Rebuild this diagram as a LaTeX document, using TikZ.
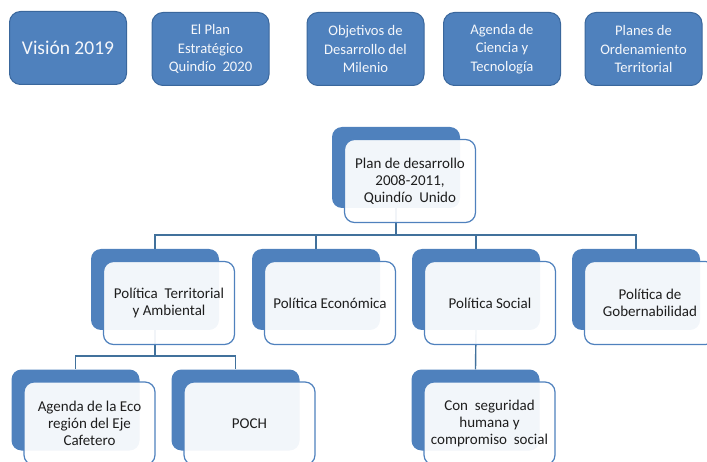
\documentclass[tikz,border=0pt]{standalone}
\usepackage{fontspec}
\setmainfont{Carlito}
\definecolor{boxblue}{HTML}{4F81BD}
\definecolor{boxedge}{HTML}{3A679C}
\definecolor{linkblue}{HTML}{41719C}
\definecolor{txtgray}{HTML}{1E1E1E}
\begin{document}
\begin{tikzpicture}[x=1pt,y=-1pt,
	topbox/.style={draw=boxedge,line width=1pt,fill=boxblue,rounded corners=11pt,minimum width=117pt,minimum height=73pt,inner sep=0pt,align=center,text=white!94!boxblue,font=\fontsize{14.6}{18.5}\selectfont},
	backbox/.style={fill=boxblue,rounded corners=10pt,minimum width=128pt,minimum height=81pt,inner sep=0pt},
	frontbox/.style={draw=boxblue,line width=1.2pt,fill=white,fill opacity=0.93,text opacity=1,rounded corners=10pt,minimum width=131pt,minimum height=83pt,inner sep=0pt,align=center,text=txtgray,font=\fontsize{15}{16.8}\selectfont,shift={(14,13.5)}},
	link/.style={draw=linkblue,line width=1.4pt}]
			\useasboundingbox (0,0) rectangle (707,462);
			\clip (0,0) rectangle (707,462);
			\coordinate (V) at (68,48);
			\coordinate (EP) at (210.5,49);
			\coordinate (OD) at (365.5,49);
			\coordinate (AC) at (502,49);
			\coordinate (PO) at (643.5,49);
			\coordinate (P) at (396,167.5);
			\coordinate (T) at (155,289.5);
			\coordinate (E) at (316,289.5);
			\coordinate (S) at (476,289.5);
			\coordinate (G) at (636,289.5);
			\coordinate (A) at (75.5,410);
			\coordinate (H) at (235.5,410);
			\coordinate (C) at (475.5,410);
			\coordinate (bar1) at (0,235);
			\coordinate (bar2) at (0,356);
			\node[topbox,font=\fontsize{19.5}{22}\selectfont] (vis) at (V) {Visión 2019};
			\node[topbox] (plq) at (EP) {El Plan\\Estratégico\\Quindío\ \ 2020};
			\node[topbox] (odm) at (OD) {Objetivos de\\Desarrollo del\\Milenio};
			\node[topbox] (act) at (AC) {Agenda de\\Ciencia y\\Tecnología};
			\node[topbox] (pot) at (PO) {Planes de\\Ordenamiento\\Territorial};
			\node[backbox] (pb) at (P) {};
			\node[backbox] (tb) at (T) {};
			\node[backbox] (eb) at (E) {};
			\node[backbox] (sb) at (S) {};
			\node[backbox] (gb) at (G) {};
			\node[backbox] (ab) at (A) {};
			\node[backbox] (hb) at (H) {};
			\node[backbox] (cb) at (C) {};
			\foreach \n in {tb,eb,sb,gb}
				\draw[link] (pb.south) -- (pb.south |- bar1) -| (\n.north);
			\foreach \n in {ab,hb}
				\draw[link] (tb.south) -- (tb.south |- bar2) -| (\n.north);
			\draw[link] (sb.south) -- (cb.north);
			\node[frontbox] (pf) at (P) {Plan de desarrollo\\2008-2011,\\Quindío\ \ Unido};
			\node[frontbox] (tf) at (T) {Política\ \ Territorial\\y Ambiental};
			\node[frontbox] (ef) at (E) {Política Económica};
			\node[frontbox] (sf) at (S) {Política Social};
			\node[frontbox] (gf) at (G) {Política de\\Gobernabilidad};
			\node[frontbox] (af) at (A) {Agenda de la Eco\\región del Eje\\Cafetero};
			\node[frontbox] (hf) at (H) {POCH};
			\node[frontbox] (cf) at (C) {Con\ \ seguridad\\humana y\\compromiso\ \ social};
		\end{tikzpicture}
\end{document}
